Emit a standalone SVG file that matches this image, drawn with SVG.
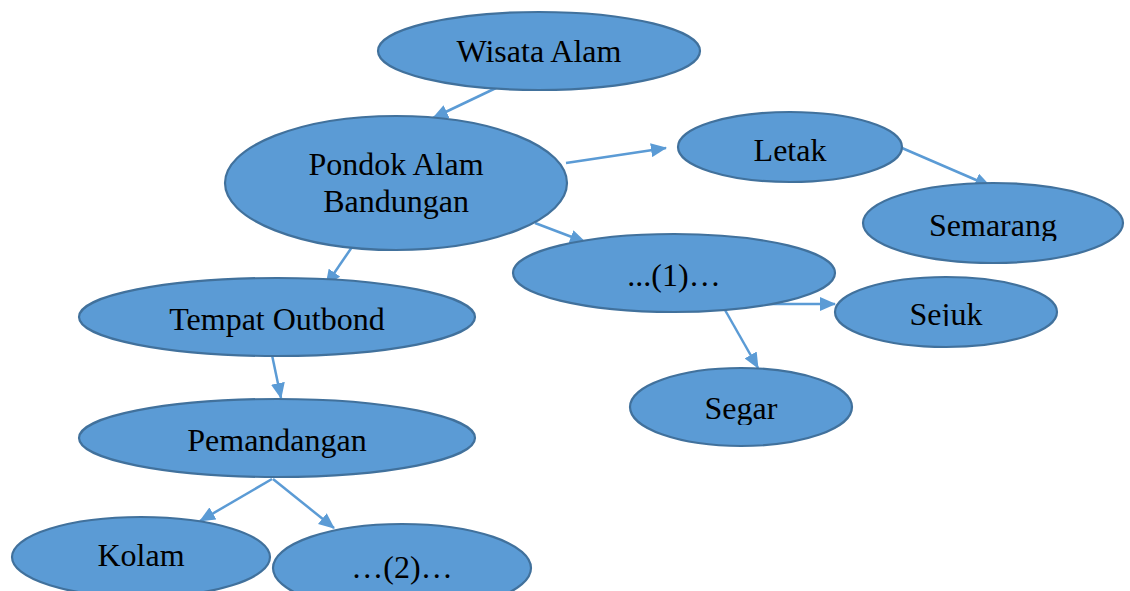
<svg xmlns="http://www.w3.org/2000/svg" width="1130" height="591" viewBox="0 0 1130 591">
<style>
.n{fill:#5B9BD5;stroke:#41719C;stroke-width:2.2}
.t{font-family:"Liberation Serif","Times New Roman",serif;font-size:32px;fill:#000;text-anchor:middle}
.c{stroke:#5B9BD5;stroke-width:2.5;fill:none;marker-end:url(#ah)}
</style>
<defs>
<marker id="ah" markerWidth="16" markerHeight="14" refX="15" refY="7" orient="auto" markerUnits="userSpaceOnUse">
<path d="M0,0 L16,7 L0,14 Z" fill="#5B9BD5"/>
</marker>
<clipPath id="clipSemarang"><rect x="860" y="190" width="270" height="51"/></clipPath>
<clipPath id="clipSejuk"><rect x="835" y="290" width="230" height="36"/></clipPath>
<clipPath id="clipSegar"><rect x="630" y="380" width="230" height="45"/></clipPath>
</defs>
<rect width="1130" height="591" fill="#fff"/>
<g id="connectors">
<line class="c" x1="496" y1="88" x2="433" y2="118"/>
<line class="c" x1="566" y1="163" x2="666" y2="148"/>
<line class="c" x1="902" y1="148" x2="990" y2="186"/>
<line class="c" x1="535" y1="223" x2="585" y2="242"/>
<line class="c" x1="352" y1="247" x2="326" y2="285"/>
<line class="c" x1="700" y1="304" x2="835" y2="304"/>
<line class="c" x1="725" y1="310" x2="758" y2="368"/>
<line class="c" x1="272" y1="355" x2="281" y2="398"/>
<line class="c" x1="272" y1="479" x2="200" y2="521"/>
<line class="c" x1="273" y1="479" x2="334" y2="528"/>
</g>
<g id="wisata"><ellipse class="n" cx="539" cy="51" rx="161" ry="39"/><text class="t" x="539" y="62">Wisata Alam</text></g>
<g id="pondok"><ellipse class="n" cx="396" cy="183" rx="171" ry="67"/><text class="t" x="396" y="175">Pondok Alam</text><text class="t" x="396" y="212">Bandungan</text></g>
<g id="letak"><ellipse class="n" cx="790" cy="147" rx="112" ry="35"/><text class="t" x="790" y="161">Letak</text></g>
<g id="semarang"><ellipse class="n" cx="993" cy="223" rx="130" ry="40"/><text class="t" x="993" y="236" clip-path="url(#clipSemarang)">Semarang</text></g>
<g id="satu"><ellipse class="n" cx="674" cy="273" rx="161" ry="39"/><text class="t" x="674" y="286">...(1)…</text></g>
<g id="sejuk"><ellipse class="n" cx="946" cy="312" rx="111" ry="35"/><text class="t" x="946" y="325" clip-path="url(#clipSejuk)">Sejuk</text></g>
<g id="segar"><ellipse class="n" cx="741" cy="407" rx="111" ry="39"/><text class="t" x="741" y="419" clip-path="url(#clipSegar)">Segar</text></g>
<g id="tempat"><ellipse class="n" cx="277" cy="317" rx="198" ry="39"/><text class="t" x="277" y="330">Tempat Outbond</text></g>
<g id="pemandangan"><ellipse class="n" cx="277" cy="438" rx="198" ry="39"/><text class="t" x="277" y="451">Pemandangan</text></g>
<g id="kolam"><ellipse class="n" cx="141" cy="557" rx="129" ry="40"/><text class="t" x="141" y="566">Kolam</text></g>
<g id="dua"><ellipse class="n" cx="402" cy="568" rx="129" ry="44"/><text class="t" x="402" y="578">…(2)…</text></g>
</svg>
